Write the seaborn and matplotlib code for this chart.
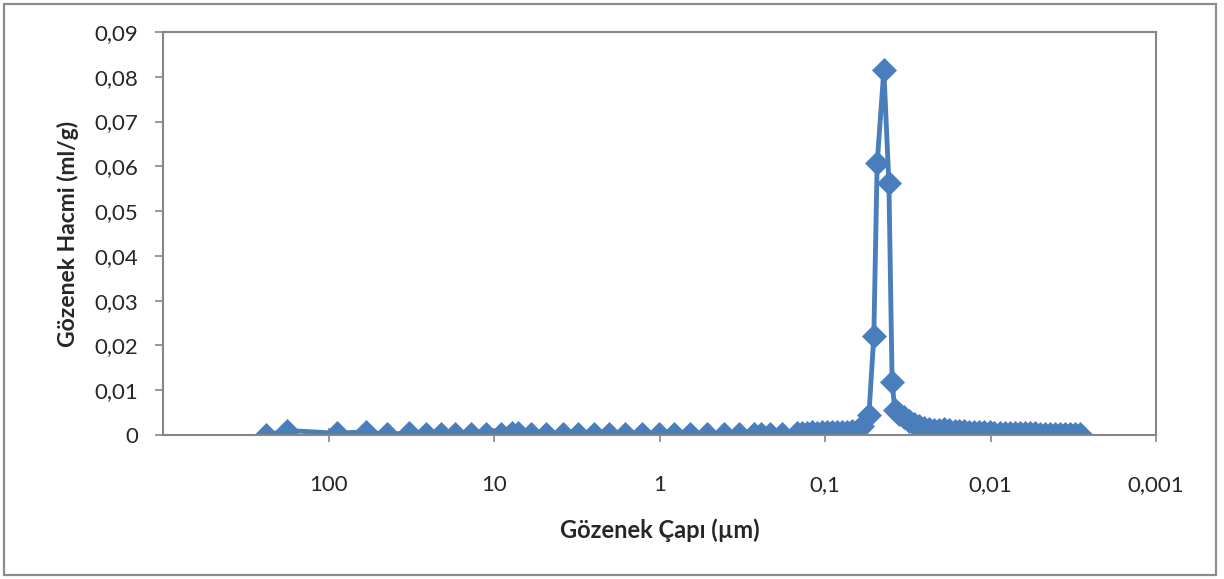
import matplotlib
matplotlib.use("Agg")
import matplotlib.pyplot as plt
import seaborn as sns
import pandas as pd
from matplotlib.patches import Rectangle

# Pore diameter (µm) and pore volume (ml/g)
diameter = [237.6, 177.2, 89.4, 59.7, 44.5, 32.7, 25.8, 20.9, 17.2, 13.8, 11.2,
            9.07, 7.78, 7.15, 5.97, 4.84, 3.82, 3.10, 2.48, 2.01, 1.61, 1.27, 1.01,
            0.823, 0.658, 0.519, 0.409, 0.332, 0.269, 0.244, 0.215, 0.182,
            0.148, 0.138, 0.1286, 0.120, 0.1118, 0.1043, 0.0972, 0.0907, 0.0846,
            0.0789, 0.0736, 0.0686, 0.0640, 0.0597,
            0.0543, 0.0507, 0.0484, 0.0441, 0.0411, 0.0393, 0.0379,
            0.0356, 0.0332, 0.0310, 0.0289, 0.0269, 0.0251, 0.0234, 0.0218,
            0.0204, 0.0190, 0.0177, 0.0165, 0.0154, 0.0144, 0.0134, 0.0125,
            0.0117, 0.0109, 0.0101, 0.00946, 0.00882, 0.00823, 0.00767, 0.00715,
            0.00667, 0.00622, 0.00580, 0.00541, 0.00505, 0.00471, 0.00439,
            0.00409, 0.00382, 0.00356, 0.00332, 0.00310, 0.00289]
volume = [0.0000, 0.0010, 0.0004, 0.0007, 0.0002, 0.0004, 0.0002, 0.0003, 0.0002, 0.0002, 0.0002,
          0.0003, 0.0004, 0.0005, 0.0002, 0.0002, 0.0002, 0.0002, 0.0002, 0.0002, 0.0002, 0.0002, 0.0002,
          0.0002, 0.0002, 0.0002, 0.0002, 0.0002, 0.0003, 0.0002, 0.0003, 0.0003,
          0.0004, 0.0005, 0.0005, 0.0006, 0.0005, 0.0006, 0.0006, 0.0007, 0.0006,
          0.0007, 0.0007, 0.0008, 0.0010, 0.0020,
          0.0045, 0.0220, 0.0607, 0.0815, 0.0562, 0.0119, 0.0056,
          0.0048, 0.0040, 0.0032, 0.0025, 0.0020, 0.0016, 0.0014, 0.0012,
          0.0012, 0.0014, 0.0012, 0.0010, 0.0009, 0.0008, 0.0007, 0.0007,
          0.0006, 0.0006, 0.0006, 0.0005, 0.0005, 0.0005, 0.0005, 0.0004,
          0.0004, 0.0004, 0.0004, 0.0004, 0.0003, 0.0003, 0.0003,
          0.0003, 0.0003, 0.0003, 0.0003, 0.0003, 0.0002]

x_ticks = [100, 10, 1, 0.1, 0.01, 0.001]
x_ticklabels = ["100", "10", "1", "0,1", "0,01", "0,001"]
y_ticks = [0, 0.01, 0.02, 0.03, 0.04, 0.05, 0.06, 0.07, 0.08, 0.09]
y_ticklabels = ["0", "0,01", "0,02", "0,03", "0,04", "0,05", "0,06", "0,07", "0,08", "0,09"]

sns.set_theme(style="white")
plt.rcParams['font.family'] = ['Lato', 'DejaVu Sans']

df = pd.DataFrame({"d": diameter, "v": volume})

fig = plt.figure(figsize=(12.24, 5.79), dpi=100)
ax = fig.add_axes([163/1224, 1-435/579, (1156-163)/1224, (435-32)/579])

blue = "#4A7EBB"
sns.lineplot(data=df, x="d", y="v", sort=False, ax=ax, color=blue, linewidth=3.5,
             marker="D", markersize=12.5, markeredgecolor=blue, markerfacecolor=blue,
             markeredgewidth=0.5)

ax.set_xscale("log")
ax.set_xlim(1000, 0.001)
ax.set_ylim(0, 0.09)
ax.set_xticks(x_ticks)
ax.set_xticklabels(x_ticklabels)
ax.minorticks_off()
ax.set_yticks(y_ticks)
ax.set_yticklabels(y_ticklabels)

grey = "#868686"
for s in ax.spines.values():
    s.set_color(grey)
    s.set_linewidth(1.5)

ax.tick_params(axis="x", direction="inout", length=10, width=1.2, color=grey,
               labelsize=16, pad=24, bottom=True)
ax.tick_params(axis="y", direction="out", length=6, width=1.2, color=grey,
               labelsize=16, pad=12, left=True)

ax.set_xlabel("Gözenek Çapı (µm)", fontsize=17, fontweight="bold", labelpad=17)
ax.set_ylabel("Gözenek Hacmi (ml/g)", fontsize=16.5, fontweight="bold", labelpad=11)

fig.patches.append(Rectangle((4/1224, 4/579), 1212/1224, 571/579, transform=fig.transFigure,
                             fill=False, edgecolor="#8c8c8c", linewidth=1.6))

fig.savefig("out.png", dpi=100)
